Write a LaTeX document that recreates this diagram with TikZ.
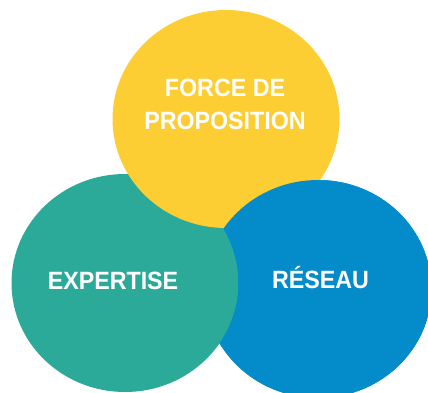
\documentclass[tikz,border=0pt]{standalone}
\usepackage{fontspec}
\setmainfont{Liberation Sans}[FakeStretch=0.93]
\usetikzlibrary{positioning}
\definecolor{vennyellow}{RGB}{253,205,52}
\definecolor{vennteal}{RGB}{43,170,153}
\definecolor{vennblue}{RGB}{3,139,202}

\begin{document}
\begin{tikzpicture}[x=1pt, y=-1pt,
    bubble/.style={x radius=113.5pt, y radius=109pt},
    bubbletext/.style={text=white, font=\fontsize{25}{32.6}\selectfont\bfseries, align=center, inner sep=0pt}
]
\useasboundingbox (0,0) rectangle (428,392);

% Centres of the three circles
\coordinate (cforce) at (226,119);
\coordinate (cexpertise) at (125,283);
\coordinate (creseau) at (318,289);

% Circles, each one lying over the next
\fill[vennblue] (creseau) ellipse [bubble];
\fill[vennteal] (cexpertise) ellipse [bubble];
\fill[vennyellow] (cforce) ellipse [bubble];

% Blue comes back over the yellow, but stays under the teal
\begin{scope}
    \clip (creseau) ellipse [bubble];
    \fill[vennblue, even odd rule] (-10,-10) rectangle (440,410) (cexpertise) ellipse [bubble];
\end{scope}

% Labels
\node[bubbletext, anchor=base] (force) at (225,129.3) {FORCE DE\\PROPOSITION};
\node[bubbletext, anchor=base] (expertise) at (113,289.3) {EXPERTISE};
\node[bubbletext, anchor=base] (reseau) at (320.5,288.3) {RÉSEAU};

\end{tikzpicture}
\end{document}
